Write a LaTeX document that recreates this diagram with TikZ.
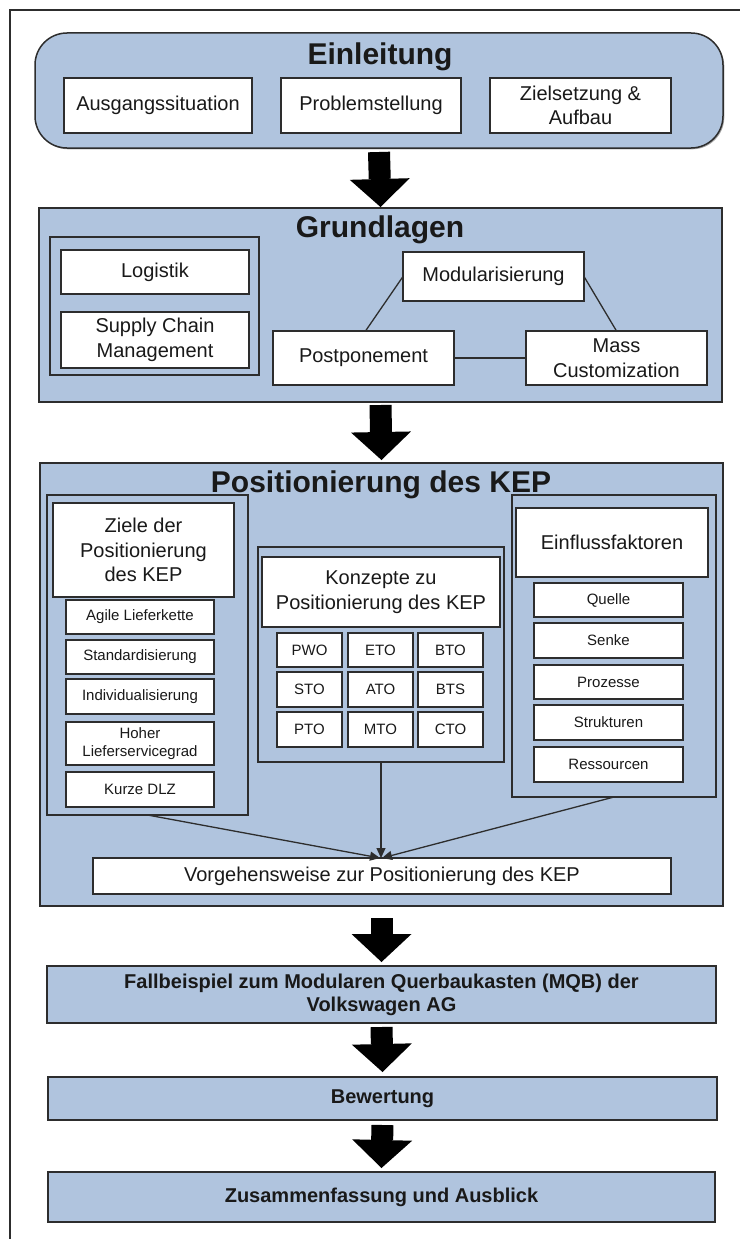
\documentclass[tikz,border=0pt]{standalone}
\usepackage{fontspec}
\setmainfont{Liberation Sans}
\usetikzlibrary{shadows,arrows.meta}

\definecolor{panelblue}{RGB}{176,196,222}
\definecolor{edge}{RGB}{45,45,45}
\definecolor{ink}{RGB}{25,25,25}

\newcommand\ftitle{\fontsize{30}{34}\selectfont\bfseries}
\newcommand\fmain{\fontsize{20}{24.5}\selectfont}
\newcommand\fsmall{\fontsize{15}{19}\selectfont}
\newcommand\fbold{\fontsize{20}{23}\selectfont\bfseries}

% box from its corners: #1 style, #2 name, #3/#4 top-left, #5/#6 bottom-right, #7 text
\newcommand\mkbox[7]{%
  \pgfmathsetmacro\mkbxc{(#3+#5)/2}%
  \pgfmathsetmacro\mkbyc{(#4+#6)/2}%
  \pgfmathsetmacro\mkbw{#5-#3}%
  \pgfmathsetmacro\mkbh{#6-#4}%
  \node[#1, minimum width=\mkbw pt, minimum height=\mkbh pt] (#2) at (\mkbxc,\mkbyc) {#7};}

\tikzset{
  base/.style={rectangle, inner sep=0pt, outer sep=0pt, draw=edge,
    line width=1.5pt, text=ink, align=center,
    drop shadow={shadow xshift=1.3pt, shadow yshift=-1.3pt, opacity=0.35, fill=black}},
  panel/.style={base, fill=panelblue},
  group/.style={base, fill=panelblue},
  wbox/.style={base, fill=white, font=\fmain},
  sbox/.style={base, fill=white, font=\fsmall},
  hbox/.style={base, fill=white, font=\fontsize{15}{18}\selectfont},
  lowbox/.style={base, fill=panelblue, font=\fbold},
  title/.style={anchor=base, font=\ftitle, text=ink, inner sep=0pt},
  bigarrow/.style={draw=black, line width=22pt,
    -{Triangle[length=28pt,width=60pt,line width=0pt]}},
  link/.style={draw=edge, line width=1.3pt},
  feed/.style={link, -{Triangle[length=10pt,width=9pt]}},
  frame/.style={draw=edge, line width=2pt}
}

\begin{document}
\begin{tikzpicture}[x=1pt, y=-1pt]
\useasboundingbox (0,0) rectangle (739,1239);

% outer frame
\coordinate (frameBL) at (10,1245);
\coordinate (frameTL) at (10,10);
\coordinate (frameTR) at (745,10);
\draw[frame] (frameBL) -- (frameTL) -- (frameTR);

% ---------- Einleitung ----------
\mkbox{panel, rounded corners=32pt}{einl}{35}{33}{723}{148}{}
\node[title] (einlT) at (380,65) {Einleitung};
\mkbox{wbox}{ausg}{64}{78}{252}{133}{Ausgangssituation}
\mkbox{wbox}{probl}{281}{78}{461}{133}{Problemstellung}
\mkbox{wbox}{zielS}{490}{78}{671}{133}{Zielsetzung \&\\Aufbau}

% ---------- Grundlagen ----------
\mkbox{panel}{grund}{39}{208}{722}{402}{}
\node[title] (grundT) at (380,237) {Grundlagen};
\mkbox{group}{grundL}{50}{237}{259}{375}{}
\mkbox{wbox}{logi}{61}{250}{249}{294}{Logistik}
\mkbox{wbox}{scm}{61}{312}{249}{368}{Supply Chain\\Management}
\mkbox{wbox}{modu}{403}{252}{584}{301}{Modularisierung}
\mkbox{wbox}{postp}{273}{331}{454}{385}{Postponement}
\mkbox{wbox}{massc}{526}{331}{707}{385}{Mass\\Customization}
\draw[link] (modu.west) -- ([xshift=2pt]postp.north);
\draw[link] (modu.east) -- (massc.north);
\draw[link] (postp.east) -- (massc.west);

% ---------- Positionierung des KEP ----------
\mkbox{panel}{posi}{40}{463}{723}{906}{}
\node[title] (posiT) at (381,492) {Positionierung des KEP};

% goals
\mkbox{group}{zielG}{47}{495}{248}{815}{}
\mkbox{wbox}{zielH}{53}{503}{234}{597}{Ziele der\\Positionierung\\des KEP}
\mkbox{sbox}{agil}{66}{600}{214}{634}{Agile Lieferkette}
\mkbox{sbox}{stand}{66}{640}{214}{674}{Standardisierung}
\mkbox{sbox}{indiv}{66}{679}{214}{714}{Individualisierung}
\mkbox{hbox}{hoher}{66}{722}{214}{765}{Hoher\\Lieferservicegrad}
\mkbox{sbox}{kurz}{66}{772}{214}{807}{Kurze DLZ}

% concepts
\mkbox{group}{konzG}{258}{547}{504}{762}{}
\mkbox{wbox}{konzH}{262}{557}{500}{627}{Konzepte zu\\Positionierung des KEP}
\mkbox{sbox}{pwo}{277}{633}{342}{667}{PWO}
\mkbox{sbox}{eto}{348}{633}{413}{667}{ETO}
\mkbox{sbox}{bto}{418}{633}{483}{667}{BTO}
\mkbox{sbox}{sto}{277}{672}{342}{707}{STO}
\mkbox{sbox}{ato}{348}{672}{413}{707}{ATO}
\mkbox{sbox}{bts}{418}{672}{483}{707}{BTS}
\mkbox{sbox}{pto}{277}{712}{342}{747}{PTO}
\mkbox{sbox}{mto}{348}{712}{413}{747}{MTO}
\mkbox{sbox}{cto}{418}{712}{483}{747}{CTO}

% influencing factors
\mkbox{group}{einfG}{512}{495}{716}{797}{}
\mkbox{wbox}{einfH}{516}{508}{708}{577}{Einflussfaktoren}
\mkbox{sbox}{quel}{534}{583}{683}{617}{Quelle}
\mkbox{sbox}{senk}{534}{623}{683}{658}{Senke}
\mkbox{sbox}{proz}{534}{665}{683}{699}{Prozesse}
\mkbox{sbox}{strk}{534}{705}{683}{740}{Strukturen}
\mkbox{sbox}{ress}{534}{747}{683}{782}{Ressourcen}

% procedure
\mkbox{wbox}{vorg}{93}{858}{671}{894}{Vorgehensweise zur Positionierung des KEP}
\draw[feed] (zielG.south) -- ([xshift=-2pt]vorg.north);
\draw[feed] (konzG.south) -- ([xshift=-1pt]vorg.north);
\draw[feed] (einfG.south) -- ([xshift=0pt]vorg.north);

% ---------- remaining chapters ----------
\mkbox{lowbox}{fall}{47}{966}{716}{1023}{Fallbeispiel zum Modularen Querbaukasten (MQB) der\\Volkswagen AG}
\mkbox{lowbox}{bew}{48}{1077}{717}{1120}{Bewertung}
\mkbox{lowbox}{zus}{48}{1172}{715}{1222}{Zusammenfassung und Ausblick}

% ---------- flow arrows ----------
\draw[bigarrow] ([yshift=-4pt]einl.south) -- ([yshift=1pt]grund.north);
\draw[bigarrow] ([yshift=-3pt]grund.south) -- ([yshift=3pt]posi.north);
\draw[bigarrow] ([yshift=-12pt]posi.south) -- ([yshift=4pt]fall.north);
\draw[bigarrow] ([yshift=-4pt]fall.south) -- ([yshift=5pt]bew.north);
\draw[bigarrow] ([yshift=-5pt]bew.south) -- ([yshift=4pt]zus.north);
\end{tikzpicture}
\end{document}
